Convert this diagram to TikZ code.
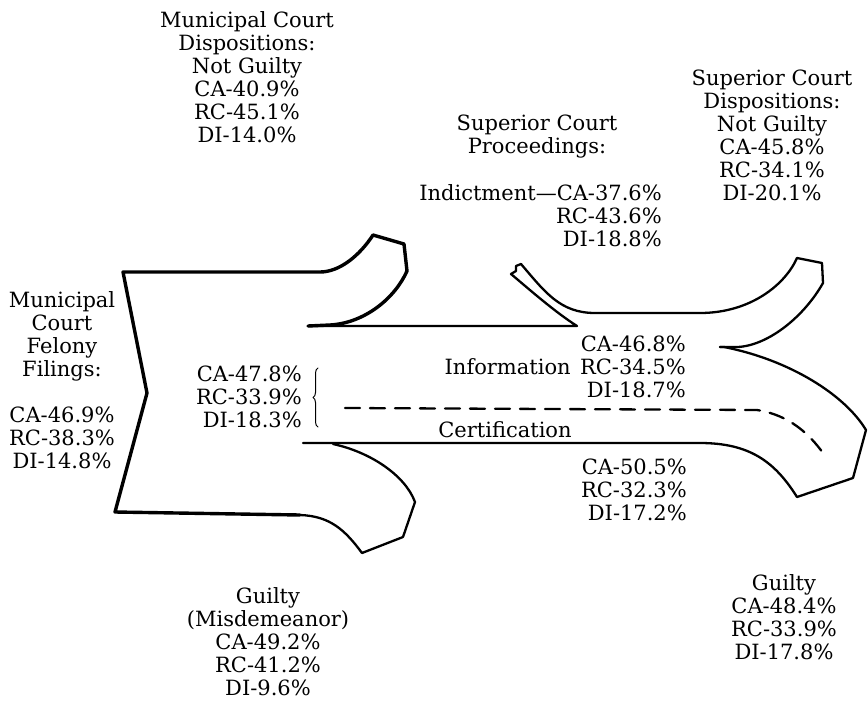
\documentclass[tikz,border=0pt]{standalone}
\usepackage{fontspec}
\setmainfont{DejaVu Serif}
\usetikzlibrary{positioning,decorations.pathreplacing}
\newcommand{\lblfont}{\fontsize{21}{23}\selectfont}
\begin{document}
\begin{tikzpicture}[x=1pt,y=-1pt,line join=round,line cap=round,
  outline/.style={line width=2.3pt},
  heavy/.style={line width=3.4pt},
  route/.style={line width=2.3pt,dash pattern=on 15pt off 10pt},
  every node/.style={font=\lblfont,inner sep=0pt,align=center}]
 \useasboundingbox (0,0) rectangle (868,702);
 \coordinate (tl) at (123,272); \coordinate (nk) at (147,393); \coordinate (bl) at (115,512);
 \coordinate (up) at (308,326); \coordinate (lo) at (303,443);
 \coordinate (tip) at (577,326); \coordinate (fork) at (720,347);
 % left part and upper flap
 \draw[heavy] (300,515)--(bl)--(nk)--(tl)--(320,272) .. controls (340,272) and (360,255) .. (373,235)
   --(404,244)--(407,271) .. controls (395,298) and (365,323) .. (330,325)--(up);
 % lower flap
 \draw[outline] (333,444) .. controls (370,452) and (405,475) .. (415,502)--(403,537)--(362,553)
   .. controls (345,530) and (330,516) .. (300,515);
 % indictment strip, upper right flap
 \draw[outline] (up)--(tip) .. controls (555,312) and (530,290) .. (511,274)--(516,271)--(516,266)--(521,264)
   .. controls (545,292) and (560,313) .. (595,313)--(700,313) .. controls (750,313) and (785,285) .. (797,258)
   --(822,263)--(823,283) .. controls (805,315) and (770,345) .. (738,347)--(fork);
 % lower right flap
 \draw[outline] (fork)--(724,347) .. controls (790,360) and (845,395) .. (866,430)--(853,478)--(797,497)
   .. controls (775,462) and (750,443) .. (700,443)--(lo);
 \draw[route] (345,408)--(757,410) .. controls (790,415) and (810,435) .. (823,453);
 \draw[line width=1pt,decorate,decoration={brace,amplitude=5pt}] (318,427)--(318,368);
 % labels
 \node (mdisp) at (247,77) {Municipal Court\\Dispositions:\\Not Guilty\\CA-40.9\%\\RC-45.1\%\\DI-14.0\%};
 \node (sproc) at (537,137) {Superior Court\\Proceedings:};
 \node[anchor=east,align=right] (indict) at (662,216) {Indictment---CA-37.6\%\\RC-43.6\%\\DI-18.8\%};
 \node (sdisp) at (772,135) {Superior Court\\Dispositions:\\Not Guilty\\CA-45.8\%\\RC-34.1\%\\DI-20.1\%};
 \node (filing) at (62,380) {Municipal\\Court\\Felony\\Filings:\\[23pt]CA-46.9\%\\RC-38.3\%\\DI-14.8\%};
 \node[anchor=east,align=right] (split) at (302,397) {CA-47.8\%\\RC-33.9\%\\DI-18.3\%};
 \node[anchor=east,align=right] (infonum) at (686,367) {CA-46.8\%\\RC-34.5\%\\DI-18.7\%};
 \node[left=9pt of infonum] (info) {Information};
 \node (cert) at (505,430) {Certification};
 \node[anchor=east,align=right] (certnum) at (687,490) {CA-50.5\%\\RC-32.3\%\\DI-17.2\%};
 \node (gmisd) at (268,642) {Guilty\\(Misdemeanor)\\CA-49.2\%\\RC-41.2\%\\DI-9.6\%};
 \node (gsup) at (784,617) {Guilty\\CA-48.4\%\\RC-33.9\%\\DI-17.8\%};
\end{tikzpicture}
\end{document}
